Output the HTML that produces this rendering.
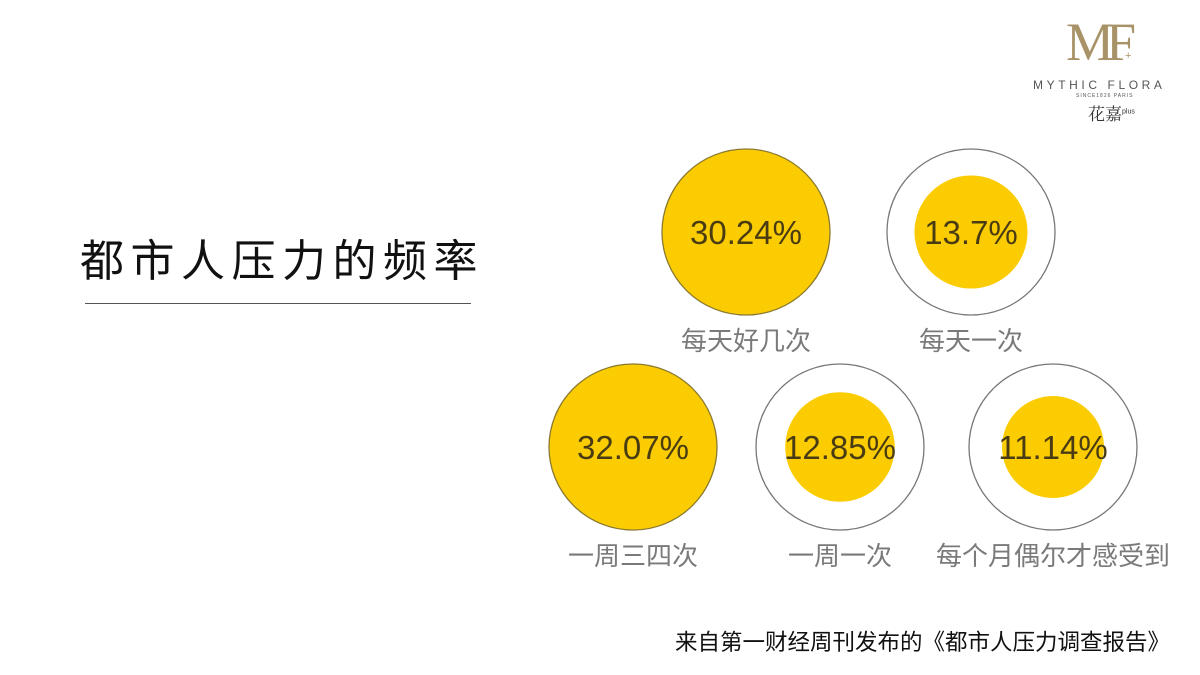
<!DOCTYPE html>
<html><head><meta charset="utf-8">
<style>
body{margin:0;width:1200px;height:675px;background:#fff;overflow:hidden;position:relative;font-family:"Liberation Sans","Noto Sans CJK SC",sans-serif}
.abs{position:absolute}
</style></head><body>
<div class="abs" style="left:80px;top:234px;font-size:44px;letter-spacing:6.5px;color:#111;white-space:nowrap;line-height:56px">都市人压力的频率</div>
<div class="abs" style="left:85px;top:303px;width:386px;height:1px;background:#555"></div>

<div class="abs" style="left:1020px;top:10px;width:180px;height:120px;color:#a89368">
  <div class="abs" style="left:46px;top:4px;font-family:'Liberation Serif',serif;font-size:54px;line-height:56px;letter-spacing:-8px">MF</div>
  <div class="abs" style="left:105px;top:40px;font-size:11px">+</div>
  <div class="abs" style="left:13px;top:68px;width:170px;font-size:12px;letter-spacing:3.6px;color:#555;white-space:nowrap">MYTHIC FLORA</div>
  <div class="abs" style="left:56px;top:83px;font-size:5px;letter-spacing:1px;color:#555;white-space:nowrap">SINCE1826 PARIS</div>
  <div class="abs" style="left:68px;top:90px;font-family:'Noto Serif CJK SC',serif;font-size:17px;color:#333;white-space:nowrap">花嘉<sup style="font-size:7px;font-family:'Liberation Sans',sans-serif">plus</sup></div>
</div>

<svg class="abs" style="left:0;top:0" width="1200" height="675" id="chart"></svg>

<div class="abs" style="left:675px;top:625px;font-size:22.5px;color:#111;white-space:nowrap">来自第一财经周刊发布的《都市人压力调查报告》</div>

<script>
const categories = ["每天好几次","每天一次","一周三四次","一周一次","每个月偶尔才感受到"];
const values = [30.24, 13.7, 32.07, 12.85, 11.14];
const valueLabels = ["30.24%","13.7%","32.07%","12.85%","11.14%"];
const cx = [746, 971, 633, 840, 1053];
const cy = [232, 232, 447, 447, 447];
const R = 84;
function rScale(v){ return Math.min(R, R*Math.sqrt(v/30.24)); }
const svg = document.getElementById('chart');
const NS = 'http://www.w3.org/2000/svg';
values.forEach((v,i)=>{
  const g = document.createElementNS(NS,'g');
  
  
  const outer = document.createElementNS(NS,'ellipse');
  
  
  outer.setAttribute('cx',cx[i]);outer.setAttribute('cy',cy[i]);outer.setAttribute('rx',R);outer.setAttribute('ry',R-1);
  const r = rScale(v);
  outer.setAttribute('fill', r>=R ? '#fccc02' : '#fff');
  outer.setAttribute('stroke', r>=R ? '#8a7a30' : '#777');
  outer.setAttribute('stroke-width','1.3');
  g.appendChild(outer);
  if(r<R){
    const inner = document.createElementNS(NS,'circle');
    
    
    inner.setAttribute('cx',cx[i]);inner.setAttribute('cy',cy[i]);inner.setAttribute('r',r);
    inner.setAttribute('fill','#fccc02');
    g.appendChild(inner);
  }
  const t = document.createElementNS(NS,'text');
  
  
  t.setAttribute('x',cx[i]);t.setAttribute('y',cy[i]+12);
  t.setAttribute('text-anchor','middle');t.setAttribute('font-size','33');
  t.setAttribute('fill','#4a3c12');
  t.setAttribute('font-family','"Liberation Sans","Noto Sans CJK SC",sans-serif');
  t.textContent = valueLabels[i];
  g.appendChild(t);
  const l = document.createElementNS(NS,'text');
  
  
  l.setAttribute('x',cx[i]);l.setAttribute('y',cy[i]+118);
  l.setAttribute('text-anchor','middle');l.setAttribute('font-size','26');
  l.setAttribute('fill','#7a7a7a');
  l.setAttribute('font-family','"Liberation Sans","Noto Sans CJK SC",sans-serif');
  l.textContent = categories[i];
  g.appendChild(l);
  svg.appendChild(g);
});
</script>
</body></html>
